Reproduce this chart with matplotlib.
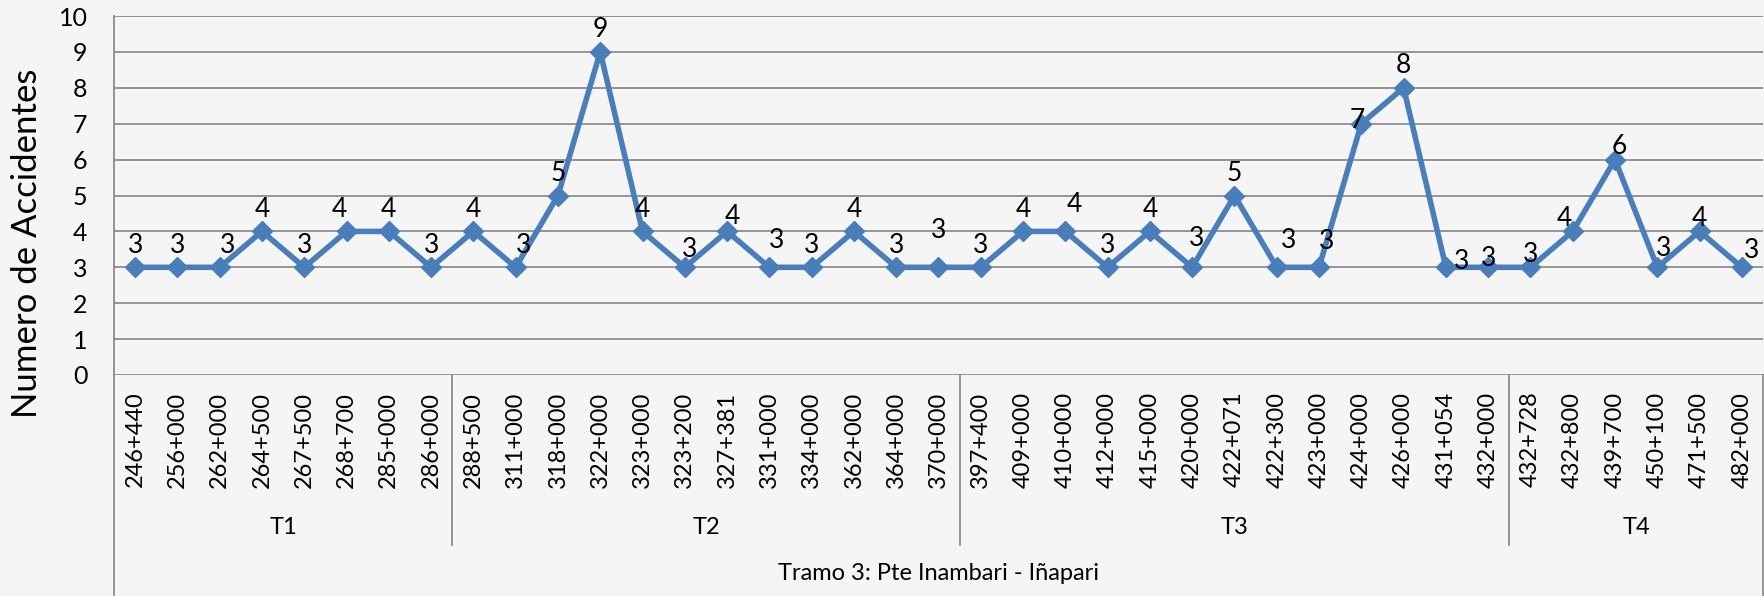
import matplotlib.pyplot as plt
from matplotlib.transforms import blended_transform_factory

plt.rcParams['font.family'] = ['Lato', 'DejaVu Sans']

# data
t1_km = ['246+440', '256+000', '262+000', '264+500', '267+500', '268+700', '285+000', '286+000']
t2_km = ['288+500', '311+000', '318+000', '322+000', '323+000', '323+200', '327+381', '331+000',
         '334+000', '362+000', '364+000', '370+000']
t3_km = ['397+400', '409+000', '410+000', '412+000', '415+000', '420+000', '422+071', '422+300',
         '423+000', '424+000', '426+000', '431+054', '432+000']
t4_km = ['432+728', '432+800', '439+700', '450+100', '471+500', '482+000']

t1_acc = [3, 3, 3, 4, 3, 4, 4, 3]
t2_acc = [4, 3, 5, 9, 4, 3, 4, 3, 3, 4, 3, 3]
t3_acc = [3, 4, 4, 3, 4, 3, 5, 3, 3, 7, 8, 3, 3]
t4_acc = [3, 4, 6, 3, 4, 3]

groups = ['T1', 'T2', 'T3', 'T4']
group_km = [t1_km, t2_km, t3_km, t4_km]
group_acc = [t1_acc, t2_acc, t3_acc, t4_acc]

km = t1_km + t2_km + t3_km + t4_km
acc = t1_acc + t2_acc + t3_acc + t4_acc
x = list(range(len(km)))

# hand-moved data labels (pixels: right, up)
nudge = {2: (8, 0), 5: (-7, 0), 9: (8, 0), 13: (5, -4), 14: (5, -7), 15: (7, 5),
         19: (0, 15), 22: (9, 5), 25: (4, 7), 27: (12, 5), 28: (8, 4), 29: (-4, -19),
         31: (16, -16), 32: (0, -13), 33: (0, -9), 34: (-8, -9), 35: (4, -9),
         36: (6, -3), 37: (0, -9), 38: (10, -5)}

W, H = 1765, 596
fig = plt.figure(figsize=(W / 100, H / 100), dpi=100)
fig.patch.set_facecolor('#f5f5f5')
left, right, top, zero = 114, 1763, 16, 375
ax = fig.add_axes([left / W, 1 - zero / H, (right - left) / W, (zero - top) / H])
ax.set_facecolor('none')

blue = '#4a7ebb'
ax.plot(x, acc, color=blue, lw=4, marker='D', markersize=10, zorder=3)

for i, v in enumerate(acc):
    dx, dy = nudge.get(i, (0, 0))
    ax.annotate(str(v), (i, v), xytext=(dx * 0.72, (22 + dy) * 0.72),
                textcoords='offset points', ha='center', va='center',
                fontsize=19, color='black', zorder=4)

ax.set_xlim(-0.5, len(km) - 0.5)
ax.set_ylim(0, 10)
ax.set_yticks(range(0, 11))
ax.set_xticks(x)
ax.set_xticklabels(km)
ax.tick_params(axis='x', length=0, pad=12, labelrotation=90, labelsize=17)
ax.tick_params(axis='y', length=0, pad=19, labelsize=18)
ax.grid(axis='y', color='#8c8c8c', lw=1.3)
ax.set_axisbelow(True)
for s in ['top', 'right', 'bottom']:
    ax.spines[s].set_visible(False)
ax.spines['left'].set_color('#8c8c8c')
ax.spines['left'].set_linewidth(1.3)

# multi-level category axis lines
tr = blended_transform_factory(ax.transData, ax.transAxes)
span = zero - top
sep_bot = -(545 - zero) / span
fig_bot = -(H - zero) / span
ax.plot([-0.5, -0.5], [0, fig_bot], transform=tr, color='#8c8c8c', lw=1.3, clip_on=False)
ax.plot([len(km) - 0.5] * 2, [0, fig_bot], transform=tr, color='#8c8c8c', lw=1.3, clip_on=False)
start = 0
for name, kms in zip(groups, group_km):
    end = start + len(kms)
    if end < len(km):
        ax.plot([end - 0.5] * 2, [0, sep_bot], transform=tr, color='#8c8c8c', lw=1.3, clip_on=False)
    ax.text((start + end - 1) / 2, -(527 - zero) / span, name, transform=tr,
            ha='center', va='center', fontsize=17)
    start = end

ax.text((len(km) - 1) / 2, -(574 - zero) / span, 'Tramo 3: Pte Inambari - Iñapari',
        transform=tr, ha='center', va='center', fontsize=17)

fig.text(27 / W, 1 - 243 / H, 'Numero de Accidentes', rotation=90,
         ha='center', va='center', fontsize=25)

fig.savefig('out.png', dpi=100, facecolor=fig.get_facecolor())
